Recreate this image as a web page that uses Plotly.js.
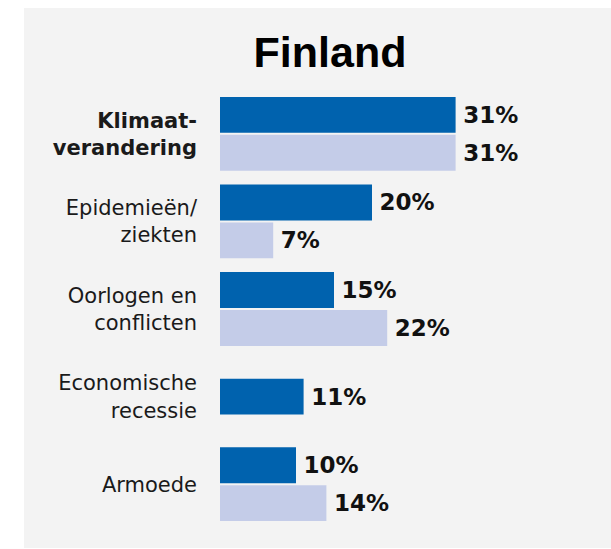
<!DOCTYPE html>
<html>
<head>
<meta charset="utf-8">
<script src="https://cdn.plot.ly/plotly-3.0.1.min.js"></script>
<style>
  html, body { margin: 0; padding: 0; background: #ffffff; }
  #chart { position: absolute; left: 24px; top: 8px; width: 587px; height: 540px; }
</style>
</head>
<body>
<div id="chart"></div>
<script>
// Data
const categories = ["Klimaatverandering", "Epidemieën/ziekten", "Oorlogen en conflicten", "Economische recessie", "Armoede"];
const tickLabels = ["<b>Klimaat-</b><br><b>verandering</b>", "Epidemieën/<br>ziekten", "Oorlogen en<br>conflicten", "Economische<br>recessie", "Armoede"];
const seriesDark = [31, 20, 15, 11, 10];
const seriesLight = [31, 7, 22, null, 14];

const barW = 0.41;
const gap = 0.0114;
// single bar (no light value) is centred in its slot
const darkOffsets = seriesLight.map(v => v === null ? -barW / 2 : -barW - gap);

const valueFont = { family: "DejaVu Sans", size: 23, color: "#111111", weight: 700 };

const traces = [
  {
    type: "bar", orientation: "h",
    y: categories, x: seriesDark,
    width: barW, offset: darkOffsets,
    marker: { color: "#0062ae" },
    texttemplate: "\u2009<b>%{x}%</b>", textposition: "outside",
    textfont: valueFont, constraintext: "none", cliponaxis: false,
    hoverinfo: "skip"
  },
  {
    type: "bar", orientation: "h",
    y: categories, x: seriesLight,
    width: barW, offset: gap,
    marker: { color: "#c4cce8" },
    texttemplate: "\u2009<b>%{x}%</b>", textposition: "outside",
    textfont: valueFont, constraintext: "none", cliponaxis: false,
    hoverinfo: "skip"
  }
];

const layout = {
  width: 587, height: 540,
  margin: { l: 196, r: 11, t: 81.5, b: 20 },
  paper_bgcolor: "#f3f3f3",
  plot_bgcolor: "#f3f3f3",
  barmode: "overlay",
  showlegend: false,
  title: {
    text: "<b>Finland</b>",
    font: { family: "Liberation Sans", size: 43, color: "#000000" },
    x: 0.5213, xref: "container", xanchor: "center",
    y: 0.9185, yref: "container", yanchor: "middle"
  },
  xaxis: { range: [0, 50], visible: false, fixedrange: true },
  yaxis: {
    type: "category",
    categoryorder: "array", categoryarray: categories,
    tickvals: categories, ticktext: tickLabels,
    range: [4.5, -0.5],
    showgrid: false, zeroline: false, showline: false, ticks: "",
    ticklabelstandoff: 22,
    tickfont: { family: "DejaVu Sans", size: 21, color: "#1a1a1a" },
    fixedrange: true
  }
};

Plotly.newPlot("chart", traces, layout, { displayModeBar: false, staticPlot: true });
</script>
</body>
</html>
